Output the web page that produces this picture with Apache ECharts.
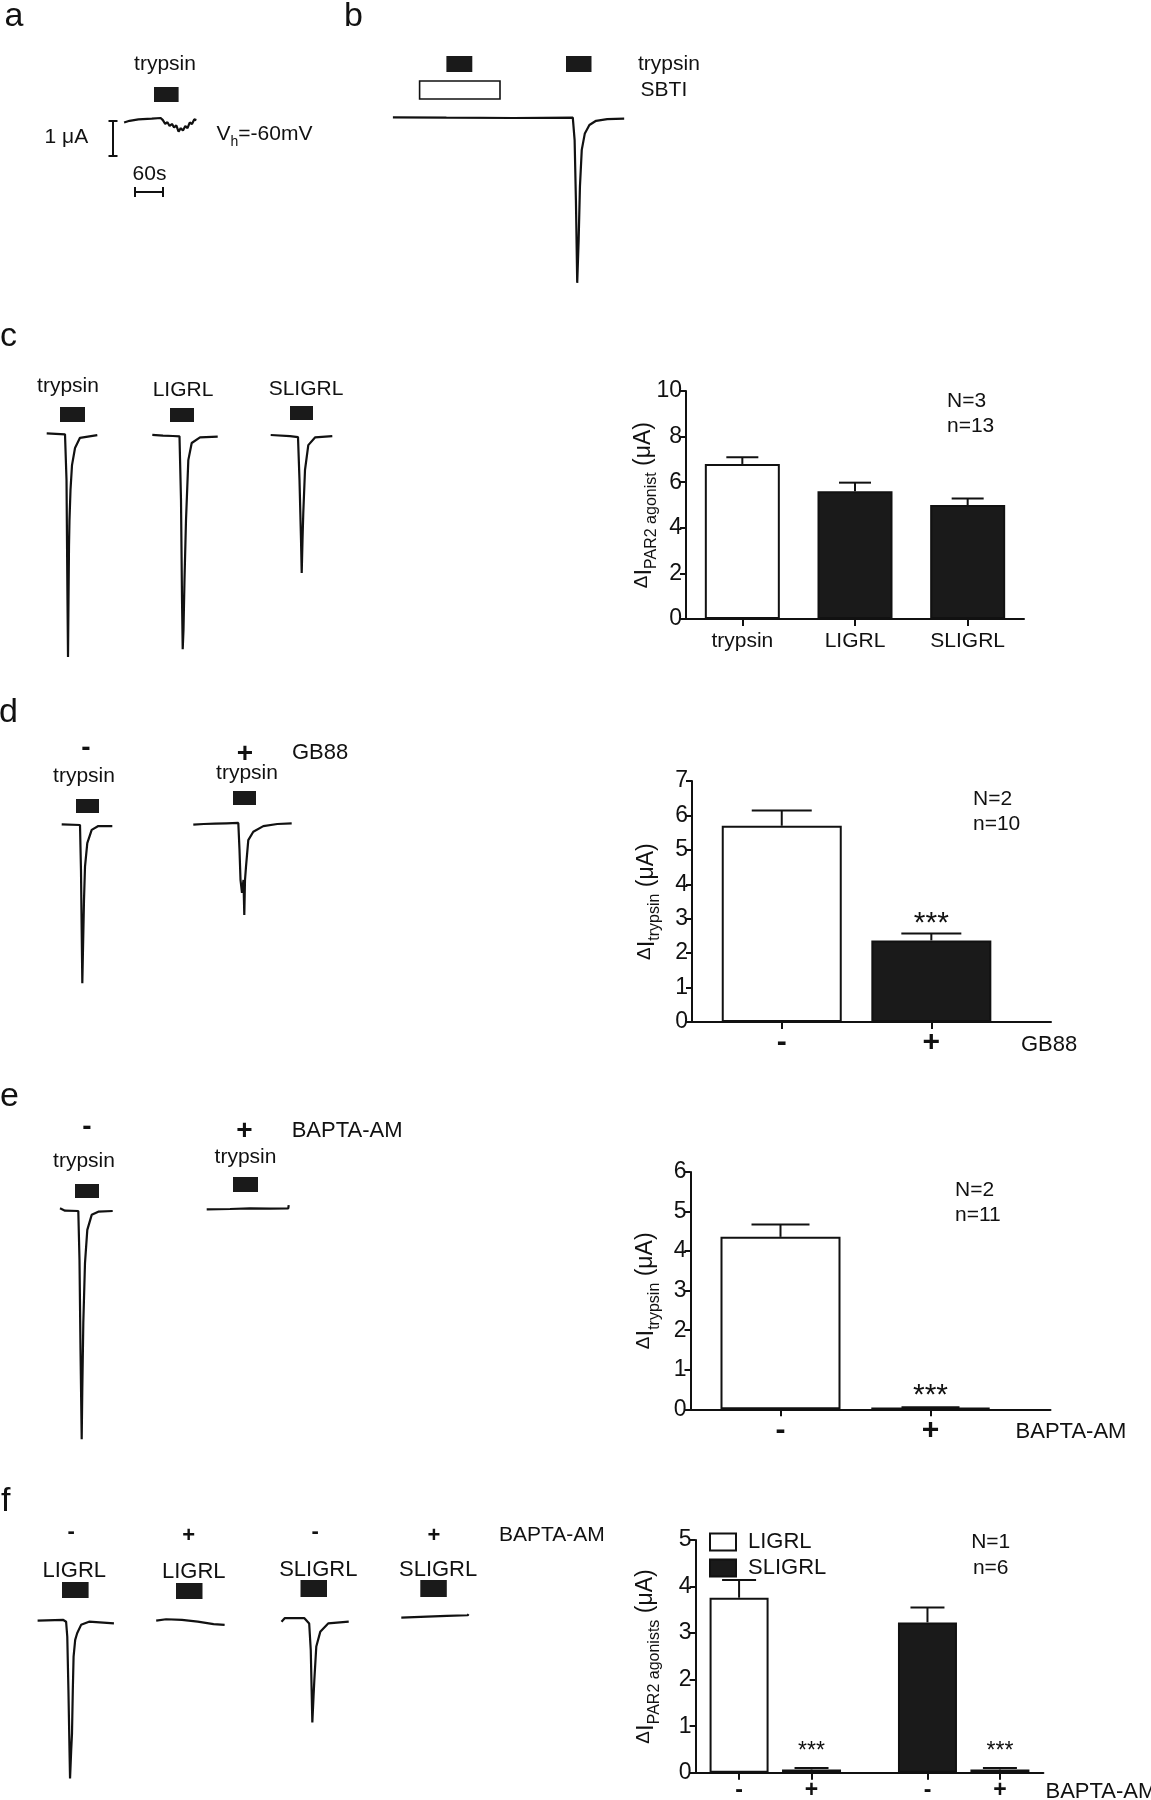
<!DOCTYPE html>
<html><head><meta charset="utf-8">
<script src="https://cdn.jsdelivr.net/npm/echarts@6/dist/echarts.min.js"></script>
<style>html,body{margin:0;padding:0;background:#fff}#c{width:1151px;height:1800px}</style>
</head><body><div id="c"></div>
<script>
// ===================== DATA =====================
// current traces: [time (s), current (µA)]
const traceA  = [[0,-0.13],[15.5,-0.08],[40.9,-0.04],[79.2,-0.02],[104.5,0],[110.8,-0.06],[117.5,-0.17],[123.8,-0.12],[130,-0.23],[136.6,-0.17],[142.8,-0.27],[149.1,-0.21],[155.7,-0.39],[161.9,-0.29],[168.2,-0.36],[174.9,-0.23],[181.2,-0.29],[187.4,-0.13],[194,-0.17],[200.3,-0.04],[206.5,-0.06]];
const traceB  = [[0,0],[152.9,-0.01],[344.3,-0.02],[514,-0.01],[519.2,-0.65],[522.9,-2.36],[526.6,-4.73],[530.7,-3.51],[534.4,-1.98],[539.6,-0.93],[548.4,-0.46],[561.4,-0.22],[580.5,-0.1],[612.4,-0.05],[660.8,-0.04]];
const traceC1 = [[0,0.02],[52.3,-0.01],[56.6,-1.31],[59.4,-4.74],[60.9,-6.37],[62.3,-4.74],[63.7,-3.22],[65.1,-2.46],[68,-1.6],[72.3,-0.89],[80.9,-0.4],[95.1,-0.11],[144.6,-0.03]];
const traceC2 = [[0,0.03],[30.6,0.01],[59.1,0],[77.7,-0.01],[82,-1.83],[84.9,-4.69],[86.9,-6.09],[89.1,-5.54],[92,-4.11],[96.3,-2.4],[102.9,-0.69],[112.6,-0.2],[136.3,-0.04],[186.9,-0.02]];
const traceC3 = [[0,0.02],[55.1,-0.01],[78,-0.04],[82.3,-1.27],[86.6,-2.98],[88.6,-3.92],[90.9,-2.98],[93.1,-2.21],[98,-0.98],[107.4,-0.27],[126.6,-0.05],[176,-0.01]];
const traceD1 = [[0,0.02],[52.3,0],[55.1,-1.29],[57.1,-3],[58.9,-4.52],[60.8,-3.57],[63.7,-2.14],[66.6,-1.19],[73.1,-0.52],[85.7,-0.14],[104.6,-0.03],[144.6,-0.03]];
const traceD2 = [[0,-0.02],[30,0],[62,0.01],[95,0.02],[128.6,0.03],[132,-0.74],[134.9,-1.6],[139.1,-1.97],[143.4,-1.6],[145.7,-2.6],[147.7,-1.6],[150.6,-1.22],[157.1,-0.46],[171.4,-0.22],[200,-0.06],[240,0],[281.1,0.02]];
const traceE1 = [[0,0.08],[14.3,0.01],[52.3,0],[55.7,-1.4],[58.6,-3.97],[62,-6.52],[63.7,-5.11],[66.6,-3.2],[71.4,-1.49],[78,-0.54],[90.6,-0.11],[109.4,-0.02],[150.6,0]];
const traceE2 = [[0,-0.01],[66.6,0],[123.7,0.02],[180.9,0.01],[233.1,0.02],[234.3,0.11]];
const traceF1 = [[0,0.01],[73.5,0.03],[81.4,-0.02],[84.8,-0.45],[88.1,-1.98],[91.5,-3.88],[92.7,-4.5],[96,-3.69],[98.3,-3.21],[100.6,-1.98],[102.8,-1.02],[107.4,-0.54],[113,-0.35],[124.3,-0.11],[146.9,-0.02],[218.1,-0.07]];
const traceF2 = [[0,0.01],[28.3,0.05],[73.5,0.03],[118.7,-0.02],[163.9,-0.09],[195.5,-0.11]];
const traceF3 = [[0,0],[9,0.1],[65.5,0.1],[79.1,-0.05],[83.6,-0.81],[88.1,-2.88],[91.5,-2.14],[93.8,-1.67],[99.4,-0.71],[110.7,-0.29],[133.3,-0.05],[192.1,0]];
const traceF4 = [[0,0],[73.5,0.03],[130,0.05],[189.8,0.07],[192.1,0.1]];

// bar chart c
const cCategories = ['trypsin','LIGRL','SLIGRL'];
const cMean = [6.8, 5.6, 5.0];
const cSEM  = [0.29, 0.38, 0.29];
const cYTicks = [0,2,4,6,8,10];
const cNote = ['N=3','n=13'];
// bar chart d
const dCategories = ['-','+'];
const dMean = [5.7, 2.37];
const dSEM  = [0.44, 0.2];
const dSig  = ['', '***'];
const dYTicks = [0,1,2,3,4,5,6,7];
const dNote = ['N=2','n=10'];
// bar chart e
const eCategories = ['-','+'];
const eMean = [4.36, 0.04];
const eSEM  = [0.31, 0.01];
const eSig  = ['', '***'];
const eYTicks = [0,1,2,3,4,5,6];
const eNote = ['N=2','n=11'];
// bar chart f
const fCategories = ['-','+','-','+'];
const fLIGRLMean  = [3.76, 0.07];
const fLIGRLSEM   = [0.38, 0.03];
const fSLIGRLMean = [3.23, 0.07];
const fSLIGRLSEM  = [0.32, 0.03];
const fSig = ['', '***', '', '***'];
const fYTicks = [0,1,2,3,4,5];
const fNote = ['N=1','n=6'];

// ===================== STYLE / LAYOUT =====================
const FONT = '"Liberation Sans", Arial, Helvetica, sans-serif';
const INK = '#111';
const DARK = '#1a1a1a';
const SX = 0.35, SY = 35; // px per s, px per µA for traces

const grids = [], xAxes = [], yAxes = [], series = [], graphics = [];

function addTrace(data, left, base) {
  const ts = data.map(d => d[0]), is = data.map(d => d[1]);
  const t0 = Math.min(...ts), t1 = Math.max(...ts), i0 = Math.min(...is), i1 = Math.max(...is);
  const gi = grids.length;
  grids.push({left: left, top: base - i1 * SY, width: (t1 - t0) * SX, height: (i1 - i0) * SY, outerBoundsMode: 'none'});
  xAxes.push({gridIndex: gi, type: 'value', min: t0, max: t1, show: false});
  yAxes.push({gridIndex: gi, type: 'value', min: i0, max: i1, show: false});
  series.push({type: 'line', xAxisIndex: gi, yAxisIndex: gi, data: data, symbol: 'none', clip: false,
    silent: true, lineStyle: {color: INK, width: 2.2}});
}

const NAME_RICH = {
  d: {fontSize: 19, lineHeight: 24, verticalAlign: 'top', fontFamily: FONT, color: INK},
  i: {fontSize: 24, lineHeight: 24, verticalAlign: 'top', fontFamily: FONT, color: INK},
  s: {fontSize: 16, lineHeight: 16, verticalAlign: 'bottom', fontFamily: FONT, color: INK},
  u: {fontSize: 23, lineHeight: 24, verticalAlign: 'top', fontFamily: FONT, color: INK},
  z: {fontSize: 1, lineHeight: 28, fontFamily: FONT, color: INK}
};

function addBarChart(c) {
  const gi = grids.length;
  const near = (a, b) => Math.abs(a - b) < 1e-6;
  grids.push({left: c.left, top: c.top, width: c.width, height: c.height, outerBoundsMode: 'none'});
  xAxes.push({gridIndex: gi, type: 'value', min: c.xMin, max: c.xMax,
    axisLine: {show: true, onZero: false, lineStyle: {color: INK, width: 2}},
    axisTick: {show: true, customValues: c.slots, length: 7, lineStyle: {color: INK, width: 2}},
    axisLabel: {show: true, customValues: c.slots, margin: c.labelMargin, color: INK, fontFamily: FONT,
      fontSize: c.labelSize, fontWeight: c.labelWeight || 'normal',
      formatter: v => { const k = c.slots.findIndex(s => near(s, v)); return k < 0 ? '' : c.labels[k]; }},
    splitLine: {show: false}});
  const yt = c.yTicks;
  yAxes.push({gridIndex: gi, type: 'value', min: yt[0], max: yt[yt.length - 1], interval: yt[1] - yt[0],
    axisLine: {show: true, onZero: false, lineStyle: {color: INK, width: 2}},
    axisTick: {show: true, length: 6, lineStyle: {color: INK, width: 2}},
    axisLabel: {margin: 4, color: INK, fontFamily: FONT, fontSize: 23},
    splitLine: {show: false},
    name: c.yName, nameLocation: 'middle', nameGap: c.nameGap, nameRotate: 90, nameMoveOverlap: false,
    nameTextStyle: {color: INK, fontFamily: FONT, rich: NAME_RICH}});
  c.groups.forEach(g => {
    series.push({type: 'bar', name: g.name, xAxisIndex: gi, yAxisIndex: gi, barWidth: c.barW, barGap: '-100%',
      silent: true, itemStyle: {color: g.fill, borderColor: INK, borderWidth: 2},
      data: g.idx.map(k => [c.slots[k], c.means[k]])});
  });
  const capW = c.capW, starOff = c.starOff, starSize = c.starSize;
  series.push({type: 'custom', xAxisIndex: gi, yAxisIndex: gi, silent: true, clip: false, z: 5,
    data: c.slots.map((s, k) => [s, c.means[k], c.sems[k], k]),
    renderItem: (params, api) => {
      const x = api.value(0), m = api.value(1), e = api.value(2), k = api.value(3);
      const p0 = api.coord([x, m]), p1 = api.coord([x, m + e]);
      const ch = [
        {type: 'line', shape: {x1: p0[0], y1: p0[1], x2: p1[0], y2: p1[1]}, style: {stroke: INK, lineWidth: 2}},
        {type: 'line', shape: {x1: p1[0] - capW / 2, y1: p1[1], x2: p1[0] + capW / 2, y2: p1[1]}, style: {stroke: INK, lineWidth: 2}}
      ];
      const sg = c.sig ? c.sig[k] : '';
      if (sg) ch.push({type: 'text', x: p1[0], y: p1[1] - starOff,
        style: {text: sg, fill: INK, fontFamily: FONT, fontSize: starSize, align: 'center', verticalAlign: 'middle'}});
      return {type: 'group', children: ch};
    }});
}

function txt(text, x, y, o) {
  o = o || {};
  const al = o.align || 'center';
  const st = {text: text, fill: INK, fontFamily: FONT, fontSize: o.size || 21, fontWeight: o.weight || 'normal',
    align: al, verticalAlign: 'middle', textAlign: al, textVerticalAlign: 'middle'};
  if (o.rich) st.rich = o.rich;
  graphics.push({type: 'text', x: x, y: y, z: 100, silent: true, style: st});
}
function box(x, y, w, h, open) {
  graphics.push({type: 'rect', z: 100, silent: true, shape: {x: x, y: y, width: w, height: h},
    style: open ? {fill: '#fff', stroke: INK, lineWidth: 1.6} : {fill: DARK}});
}
function seg(x1, y1, x2, y2) {
  graphics.push({type: 'line', z: 100, silent: true, shape: {x1: x1, y1: y1, x2: x2, y2: y2}, style: {stroke: INK, lineWidth: 2}});
}

// ---------- traces ----------
addTrace(traceA, 124.1, 118);
addTrace(traceB, 392.9, 117.3);
addTrace(traceC1, 46.7, 434);
addTrace(traceC2, 152.3, 436);
addTrace(traceC3, 270.7, 435.7);
addTrace(traceD1, 61.7, 825);
addTrace(traceD2, 193.3, 824);
addTrace(traceE1, 60, 1211);
addTrace(traceE2, 206.7, 1209);
addTrace(traceF1, 37.6, 1621);
addTrace(traceF2, 156.2, 1621);
addTrace(traceF3, 281.5, 1621.7);
addTrace(traceF4, 401.3, 1617.7);

// ---------- bar charts ----------
addBarChart({left: 686, top: 391, width: 338, height: 228, xMin: 0.5, xMax: 3.5, slots: [1, 2, 3],
  labels: cCategories, labelSize: 21, labelMargin: 12, yTicks: cYTicks,
  means: cMean, sems: cSEM, barW: 75, capW: 32,
  groups: [{name: 'c-open', fill: '#fff', idx: [0]}, {name: 'c-dark', fill: DARK, idx: [1, 2]}],
  yName: '{d|Δ}{i|I}{s|PAR2 agonist}{u| (μA)}{z| }', nameGap: 26});
addBarChart({left: 692, top: 781, width: 359, height: 241, xMin: 0.4, xMax: 2.8, slots: [1, 2],
  labels: dCategories, labelSize: 30, labelWeight: 'bold', labelMargin: 6, yTicks: dYTicks,
  means: dMean, sems: dSEM, sig: dSig, barW: 120, capW: 60, starSize: 30, starOff: 10,
  groups: [{name: 'd-open', fill: '#fff', idx: [0]}, {name: 'd-dark', fill: DARK, idx: [1]}],
  yName: '{d|Δ}{i|I}{s|trypsin}{u| (μA)}{z| }', nameGap: 29});
addBarChart({left: 690.5, top: 1172, width: 360, height: 237.3, xMin: 0.4, xMax: 2.8, slots: [1, 2],
  labels: eCategories, labelSize: 30, labelWeight: 'bold', labelMargin: 6, yTicks: eYTicks,
  means: eMean, sems: eSEM, sig: eSig, barW: 120, capW: 58, starSize: 30, starOff: 12,
  groups: [{name: 'e-open', fill: '#fff', idx: [0]}, {name: 'e-dark', fill: DARK, idx: [1]}],
  yName: '{d|Δ}{i|I}{s|trypsin}{u| (μA)}{z| }', nameGap: 28});
addBarChart({left: 695.6, top: 1540, width: 347.8, height: 232.7, xMin: 0.4, xMax: 5.2, slots: [1, 2, 3.6, 4.6],
  labels: fCategories, labelSize: 23, labelWeight: 'bold', labelMargin: 6, yTicks: fYTicks,
  means: fLIGRLMean.concat(fSLIGRLMean), sems: fLIGRLSEM.concat(fSLIGRLSEM), sig: fSig,
  barW: 59, capW: 34, starSize: 23, starOff: 16,
  groups: [{name: 'LIGRL', fill: '#fff', idx: [0, 1]}, {name: 'SLIGRL', fill: DARK, idx: [2, 3]}],
  yName: '{d|Δ}{i|I}{s|PAR2 agonists}{u| (μA)}{z| }', nameGap: 33});

// ---------- annotations ----------
// panel letters
[['a', 4.5, 16.5], ['b', 344, 16.5], ['c', 0, 336.5], ['d', -1, 713], ['e', 0, 1096.5], ['f', 1, 1501.5]]
  .forEach(p => txt(p[0], p[1], p[2], {size: 34, align: 'left'}));

// panel a
txt('trypsin', 165, 64.5);
box(154, 87, 24.6, 15);
seg(113, 121, 113, 156); seg(108.5, 121, 117.5, 121); seg(108.5, 156, 117.5, 156);
txt('1 μA', 44.6, 137.5, {align: 'left'});
txt('{n|V}{s|h}{n|=-60mV}{z| }', 216.5, 136.5, {align: 'left', rich: {
  n: {fontSize: 21, lineHeight: 21, verticalAlign: 'top', fontFamily: FONT, color: INK},
  s: {fontSize: 14, lineHeight: 14, verticalAlign: 'bottom', fontFamily: FONT, color: INK},
  z: {fontSize: 1, lineHeight: 26, fontFamily: FONT, color: INK}}});
txt('60s', 149.5, 174);
seg(135, 192, 163, 192); seg(135, 187, 135, 197); seg(163, 187, 163, 197);

// panel b
box(446.4, 56, 25.9, 16); box(566, 56, 25.5, 16); box(419.6, 81, 80.4, 18, true);
txt('trypsin', 638, 64, {align: 'left'});
txt('SBTI', 640.6, 90, {align: 'left'});

// panel c
txt('trypsin', 68, 386.5); txt('LIGRL', 183, 390); txt('SLIGRL', 306, 389);
box(60, 407, 25, 15); box(170, 408, 24, 14); box(290, 406, 23, 14);
txt(cNote[0], 947, 401.7, {align: 'left'}); txt(cNote[1], 947, 426.3, {align: 'left'});

// panel d
txt('-', 86, 748.5, {size: 28, weight: 'bold'}); txt('+', 245, 754, {size: 28, weight: 'bold'});
txt('GB88', 292, 752.5, {align: 'left', size: 22});
txt('trypsin', 84, 776); txt('trypsin', 247, 773);
box(76, 799, 23, 14); box(233, 791, 23, 14);
txt(dNote[0], 973, 799, {align: 'left'}); txt(dNote[1], 973, 824, {align: 'left'});
txt('GB88', 1021, 1045, {align: 'left', size: 22});

// panel e
txt('-', 87, 1127, {size: 28, weight: 'bold'}); txt('+', 244.5, 1131, {size: 28, weight: 'bold'});
txt('BAPTA-AM', 291.7, 1130.5, {align: 'left', size: 22});
txt('trypsin', 84, 1161); txt('trypsin', 245.5, 1157);
box(75, 1184, 24, 14); box(233, 1177, 25, 15);
txt(eNote[0], 955, 1190.5, {align: 'left'}); txt(eNote[1], 955, 1215.5, {align: 'left'});
txt('BAPTA-AM', 1015.6, 1431.5, {align: 'left', size: 22});

// panel f
[['-', 71.2, 1532], ['+', 188.6, 1536], ['-', 315.2, 1532], ['+', 433.8, 1536]]
  .forEach(p => txt(p[0], p[1], p[2], {size: 22, weight: 'bold'}));
txt('BAPTA-AM', 499, 1535.5, {align: 'left', size: 21});
txt('LIGRL', 74.3, 1571, {size: 22}); txt('LIGRL', 193.8, 1572, {size: 22});
txt('SLIGRL', 318.3, 1570, {size: 22}); txt('SLIGRL', 438.1, 1570, {size: 22});
box(62, 1582, 26.6, 16); box(176, 1583, 26.5, 16); box(300.5, 1580, 26.5, 17); box(420.3, 1580, 26.5, 17);
txt(fNote[0], 990.7, 1542.5); txt(fNote[1], 990.7, 1568);
txt('BAPTA-AM', 1045.5, 1792, {align: 'left', size: 22});

const option = {
  animation: false,
  backgroundColor: '#fff',
  textStyle: {fontFamily: FONT},
  grid: grids, xAxis: xAxes, yAxis: yAxes, series: series,
  legend: {data: ['LIGRL', 'SLIGRL'], orient: 'vertical', left: 704, top: 1526, itemWidth: 26, itemHeight: 17,
    itemGap: 4, icon: 'rect', selectedMode: false, padding: 5,
    textStyle: {fontSize: 22, fontFamily: FONT, color: INK, padding: [0, 0, 0, 7]}},
  graphic: {elements: graphics}
};
const chart = echarts.init(document.getElementById('c'), null, {renderer: 'canvas', width: 1151, height: 1800});
chart.setOption(option);
</script>
</body></html>
